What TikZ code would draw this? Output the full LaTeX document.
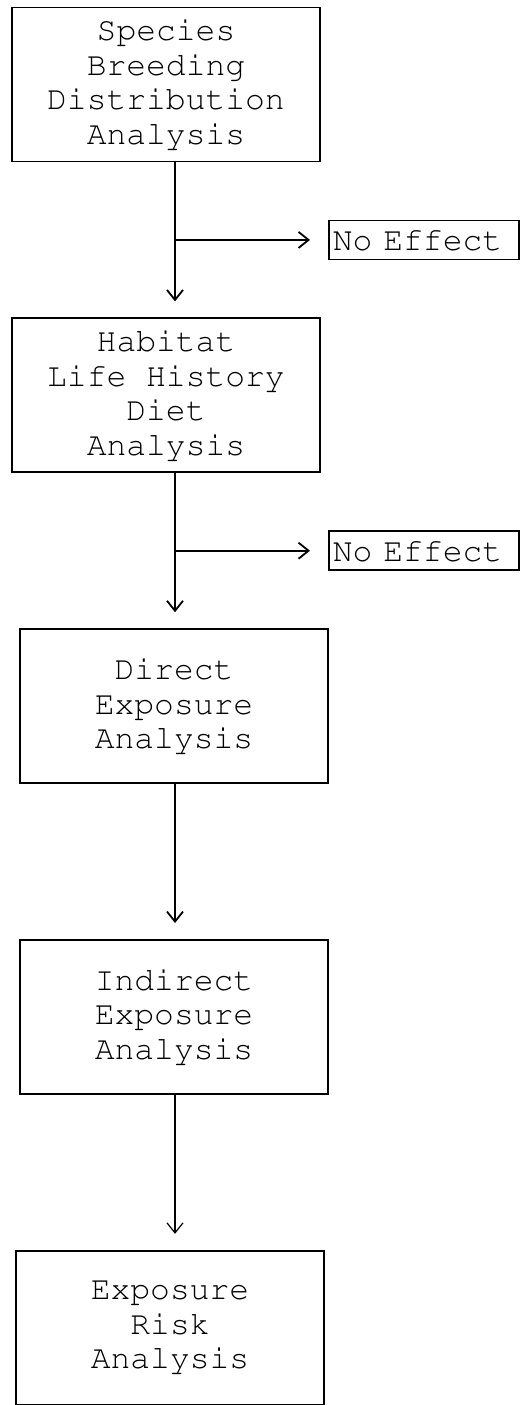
\documentclass[tikz,border=0pt]{standalone}
\usepackage{fontspec}
\newcommand\flowfont{\fontencoding{T1}\fontfamily{pcr}\selectfont}
\usepackage{tikz}
\usetikzlibrary{arrows.meta,positioning,calc}

\begin{document}
\begin{tikzpicture}[
    x=0.5pt, y=-0.5pt,
    node distance=77.5pt and 76.5pt,
    every node/.style={font=\flowfont\fontsize{16.5}{17.25}\selectfont},
    box/.style={draw, line width=0.9pt, align=center, minimum width=154pt, minimum height=77pt, inner sep=0pt},
    outbox/.style={draw, line width=0.8pt, align=left, text width=91pt, inner xsep=2pt, inner ysep=0pt, minimum height=19.5pt},
    arr/.style={-{Straight Barb[length=5pt, width=8pt]}, line width=0.9pt, shorten >=8pt},
]
    \useasboundingbox (0,0) rectangle (526,1405);

    % main column
    \node[box] (species) at (166,84.5) {Species\\Breeding\\Distribution\\Analysis};
    \node[box, below=of species] (habitat) {Habitat\\Life History\\Diet\\Analysis};
    \node[box, below=of habitat, xshift=4pt] (direct) {Direct\\Exposure\\Analysis};
    \node[box, below=of direct] (indirect) {Indirect\\Exposure\\Analysis};
    \node[box, below=of indirect, xshift=-2pt] (risk) {Exposure\\Risk\\Analysis};

    % spine of the flow
    \coordinate (spine) at (175,0);

    % exits
    \coordinate (split1) at ($(species.south -| spine)!0.5!(habitat.north -| spine)$);
    \coordinate (split2) at ($(habitat.south -| spine)!0.5!(direct.north -| spine)$);
    \node[outbox, right=of split1] (noeff1) {No Effect};
    \node[outbox, right=of split2] (noeff2) {No Effect};

    \draw[arr] (species.south -| spine) -- (habitat.north -| spine);
    \draw[arr] (habitat.south -| spine) -- (direct.north -| spine);
    \draw[arr] (direct.south -| spine) -- (indirect.north -| spine);
    \draw[arr, line width=0.6pt] (indirect.south -| spine) -- (risk.north -| spine);

    \draw[arr, shorten >=9pt] (split1) -- (noeff1.west);
    \draw[arr, shorten >=9pt] (split2) -- (noeff2.west);
\end{tikzpicture}
\end{document}
